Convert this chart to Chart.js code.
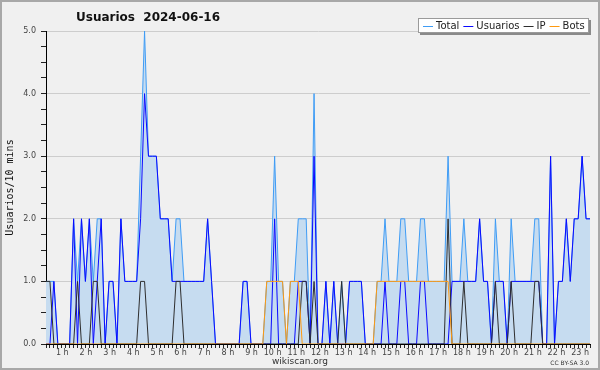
<!DOCTYPE html>
<html>
<head>
<meta charset="utf-8">
<title>Usuarios 2024-06-16</title>
<script src="https://cdn.jsdelivr.net/npm/chart.js@4.4.1/dist/chart.umd.min.js"></script>
<style>
  html, body { margin: 0; padding: 0; background: #f0f0f0; }
  #wrap { position: relative; width: 600px; height: 370px; }
</style>
</head>
<body>
<div id="wrap"><canvas id="chart" width="600" height="370"></canvas></div>
<script>
// ─── Data (10-minute buckets, 00:00 → 23:00) ─────────────────────
const hourLabels = ["1 h", "2 h", "3 h", "4 h", "5 h", "6 h", "7 h", "8 h", "9 h", "10 h", "11 h", "12 h",
                    "13 h", "14 h", "15 h", "16 h", "17 h", "18 h", "19 h", "20 h", "21 h", "22 h", "23 h"];

const total = [
  1, 1, 1, 0, 0, 0, 0, 2, 1, 2, 1, 2, 1, 2, 2, 0, 1, 1, 0, 2, 1, 1, 1, 1,
  3, 5, 3, 3, 3, 2, 2, 2, 1, 2, 2, 1, 1, 1, 1, 1, 1, 2, 1, 0, 0, 0, 0, 0,
  0, 0, 1, 1, 0, 0, 0, 0, 1, 1, 3, 1, 1, 0, 1, 1, 2, 2, 2, 0, 4, 0, 0, 1,
  0, 1, 0, 1, 0, 1, 1, 1, 1, 0, 0, 0, 1, 1, 2, 1, 1, 1, 2, 2, 1, 1, 1, 2,
  2, 1, 1, 1, 1, 1, 3, 1, 1, 1, 2, 1, 1, 1, 2, 1, 1, 0, 2, 1, 1, 0, 2, 1,
  1, 1, 1, 1, 2, 2, 0, 0, 3, 0, 1, 1, 2, 1, 2, 2, 3, 2, 2
];
const usuarios = [
  0, 0, 1, 0, 0, 0, 0, 2, 0, 2, 1, 2, 0, 1, 2, 0, 1, 1, 0, 2, 1, 1, 1, 1,
  2, 4, 3, 3, 3, 2, 2, 2, 1, 1, 1, 1, 1, 1, 1, 1, 1, 2, 1, 0, 0, 0, 0, 0,
  0, 0, 1, 1, 0, 0, 0, 0, 0, 0, 2, 0, 0, 0, 0, 0, 1, 1, 1, 0, 3, 0, 0, 1,
  0, 1, 0, 0, 0, 1, 1, 1, 1, 0, 0, 0, 0, 0, 1, 0, 0, 0, 1, 1, 0, 0, 0, 1,
  1, 0, 0, 0, 0, 0, 0, 1, 1, 1, 1, 1, 1, 1, 2, 1, 1, 0, 1, 1, 1, 0, 1, 1,
  1, 1, 1, 1, 1, 1, 0, 0, 3, 0, 1, 1, 2, 1, 2, 2, 3, 2, 2
];
const ip = [
  1, 1, 0, 0, 0, 0, 0, 0, 1, 0, 0, 0, 1, 1, 0, 0, 0, 0, 0, 0, 0, 0, 0, 0,
  1, 1, 0, 0, 0, 0, 0, 0, 0, 1, 1, 0, 0, 0, 0, 0, 0, 0, 0, 0, 0, 0, 0, 0,
  0, 0, 0, 0, 0, 0, 0, 0, 0, 0, 0, 0, 0, 0, 0, 0, 0, 1, 1, 0, 1, 0, 0, 0,
  0, 0, 0, 1, 0, 0, 0, 0, 0, 0, 0, 0, 0, 0, 0, 0, 0, 0, 0, 0, 0, 0, 0, 0,
  0, 0, 0, 0, 0, 0, 2, 0, 0, 0, 1, 0, 0, 0, 0, 0, 0, 0, 1, 0, 0, 0, 1, 0,
  0, 0, 0, 0, 1, 1, 0, 0, 0, 0, 0, 0, 0, 0, 0, 0, 0, 0, 0
];
const bots = [
  0, 0, 0, 0, 0, 0, 0, 0, 0, 0, 0, 0, 0, 0, 0, 0, 0, 0, 0, 0, 0, 0, 0, 0,
  0, 0, 0, 0, 0, 0, 0, 0, 0, 0, 0, 0, 0, 0, 0, 0, 0, 0, 0, 0, 0, 0, 0, 0,
  0, 0, 0, 0, 0, 0, 0, 0, 1, 1, 1, 1, 1, 0, 1, 1, 1, 0, 0, 0, 0, 0, 0, 0,
  0, 0, 0, 0, 0, 0, 0, 0, 0, 0, 0, 0, 1, 1, 1, 1, 1, 1, 1, 1, 1, 1, 1, 1,
  1, 1, 1, 1, 1, 1, 1, 0, 0, 0, 0, 0, 0, 0, 0, 0, 0, 0, 0, 0, 0, 0, 0, 0,
  0, 0, 0, 0, 0, 0, 0, 0, 0, 0, 0, 0, 0, 0, 0, 0, 0, 0, 0
];

// category labels hh:mm, one per bucket
const times = total.map((_, i) =>
  String(Math.floor(i / 6)).padStart(2, "0") + ":" + String((i % 6) * 10).padStart(2, "0"));

// ─── Colours ─────────────────────────────────────────────────────
const C_TOTAL = "#3f9cf5";
const C_FILL  = "#c6dcf0";
const C_USERS = "#0a0aff";
const C_IP    = "#2e2e2e";
const C_BOTS  = "#ff9a10";

// ─── Decorations: background, title, legend, footer ──────────────
const decor = {
  id: "decor",
  beforeDraw(chart) {
    const c = chart.ctx;
    c.save();
    c.fillStyle = "#f0f0f0";
    c.fillRect(0, 0, chart.width, chart.height);
    c.restore();
  },
  afterDraw(chart) {
    const c = chart.ctx;
    c.save();

    // title
    c.fillStyle = "#111";
    c.font = "bold 12px 'DejaVu Sans'";
    c.textBaseline = "alphabetic";
    c.textAlign = "left";
    c.fillText("Usuarios  2024-06-16", 76, 21);

    // legend box with shadow
    const lx = 418, ly = 18, lw = 171, lh = 15;
    c.fillStyle = "#8a8a8a";
    c.fillRect(lx + 2, ly + 2, lw, lh);
    c.fillStyle = "#ffffff";
    c.fillRect(lx, ly, lw, lh);
    c.strokeStyle = "#9a9a9a";
    c.lineWidth = 1;
    c.strokeRect(lx + 0.5, ly + 0.5, lw - 1, lh - 1);

    c.font = "10px 'DejaVu Sans'";
    c.textBaseline = "middle";
    let x = lx + 5;
    chart.data.datasets.forEach(ds => {
      c.strokeStyle = ds.borderColor;
      c.beginPath();
      c.moveTo(x, ly + 8.5);
      c.lineTo(x + 10, ly + 8.5);
      c.stroke();
      x += 13;
      c.fillStyle = "#222";
      c.fillText(ds.label, x, ly + 8);
      x += c.measureText(ds.label).width + 4;
    });

    // footer
    c.fillStyle = "#333";
    c.font = "9px 'DejaVu Sans'";
    c.textAlign = "center";
    c.fillText("wikiscan.org", 300, 362);
    c.font = "6px 'DejaVu Sans'";
    c.textAlign = "right";
    c.fillText("CC BY-SA 3.0", 589, 363);

    // outer frame
    c.strokeStyle = "#a8a8a8";
    c.lineWidth = 2;
    c.strokeRect(1, 1, chart.width - 2, chart.height - 2);
    c.restore();
  }
};

// ─── Chart ───────────────────────────────────────────────────────
const lineStyle = { borderWidth: 1, pointRadius: 0, tension: 0, fill: false };

new Chart(document.getElementById("chart"), {
  type: "line",
  data: {
    labels: times,
    datasets: [
      { ...lineStyle, label: "Total", data: total, borderColor: C_TOTAL,
        backgroundColor: C_FILL, fill: "origin", order: 3 },
      { ...lineStyle, label: "Usuarios", data: usuarios, borderColor: C_USERS, order: 2 },
      { ...lineStyle, label: "IP", data: ip, borderColor: C_IP, order: 1 },
      { ...lineStyle, label: "Bots", data: bots, borderColor: C_BOTS, order: 0 },
    ],
  },
  options: {
    responsive: false,
    animation: false,
    events: [],
    layout: { padding: { top: 31, right: 10, bottom: 0, left: 0 } },
    plugins: { legend: { display: false }, tooltip: { enabled: false } },
    scales: {
      x: {
        afterFit: s => { s.height = 26; },
        border: { color: "#000", width: 1 },
        grid: { drawOnChartArea: false, tickLength: 4, tickColor: "#222" },
        ticks: {
          autoSkip: false, maxRotation: 0, padding: 0, align: "end", labelOffset: -1,
          color: "#444", font: { family: "DejaVu Sans", size: 8 },
          callback: (v, i) => (i > 0 && i % 6 === 0) ? hourLabels[i / 6 - 1] : "",
        },
      },
      y: {
        min: 0, max: 5,
        afterFit: s => { s.width = 46; },
        border: { color: "#000", width: 1 },
        grid: {
          tickLength: 5, tickColor: "#222",
          color: ctx => (ctx.tick && ctx.tick.value > 0 && Number.isInteger(ctx.tick.value)) ? "#cdcdcd" : "rgba(0,0,0,0)",
        },
        ticks: {
          stepSize: 0.25, padding: 5, color: "#444", font: { family: "DejaVu Sans", size: 8 },
          callback: v => Number.isInteger(v) ? v.toFixed(1) : "",
        },
        title: {
          display: true, text: "Usuarios/10 mins", color: "#111",
          font: { family: "DejaVu Sans Mono", size: 10 }, padding: { top: 4, bottom: 0 },
        },
      },
    },
  },
  plugins: [decor],
});
</script>
</body>
</html>
